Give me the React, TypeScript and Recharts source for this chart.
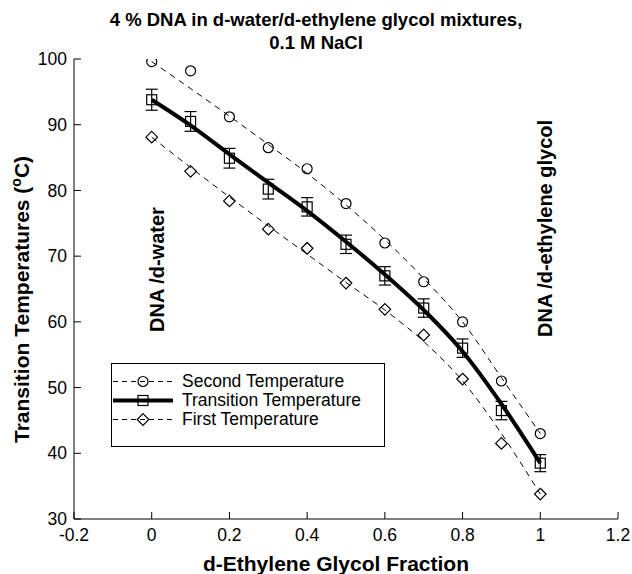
import { ComposedChart, Line, XAxis, YAxis, ErrorBar } from "recharts";

const fractions = [0, 0.1, 0.2, 0.3, 0.4, 0.5, 0.6, 0.7, 0.8, 0.9, 1.0];
const secondTemp = [99.6, 98.2, 91.2, 86.5, 83.3, 78.0, 72.0, 66.1, 60.0, 51.0, 43.0];
const transitionTemp = [93.8, 90.5, 84.9, 80.2, 77.5, 71.8, 67.0, 62.1, 56.0, 46.5, 38.5];
const firstTemp = [88.1, 82.9, 78.4, 74.1, 71.2, 65.9, 61.9, 58.0, 51.3, 41.5, 33.8];
const transitionErr = [1.6, 1.5, 1.5, 1.5, 1.4, 1.4, 1.4, 1.4, 1.4, 1.4, 1.3];
// fitted curves as drawn in the figure
const secondFit = [99.6, 95.5, 91.3, 87.0, 82.6, 77.8, 72.5, 66.6, 60.0, 51.5, 43.0];
const transitionFit = [93.8, 89.9, 85.5, 81.2, 76.9, 72.2, 67.2, 61.8, 55.5, 47.5, 38.5];
const firstFit = [88.1, 83.5, 79.0, 74.6, 70.3, 66.0, 61.8, 57.0, 51.0, 43.0, 33.8];

const xTicks = [-0.2, 0, 0.2, 0.4, 0.6, 0.8, 1, 1.2];
const yTicks = [30, 40, 50, 60, 70, 80, 90, 100];

const data = fractions.map((x, i) => ({
  x,
  second: secondTemp[i],
  trans: transitionTemp[i],
  first: firstTemp[i],
  err: transitionErr[i],
  secondFit: secondFit[i],
  transFit: transitionFit[i],
  firstFit: firstFit[i],
}));

const FONT = '"Liberation Sans", Arial, sans-serif';

const CircleDot = (props: any) => {
  const { cx, cy } = props;
  if (cx == null || cy == null) return null;
  return <circle cx={cx} cy={cy} r={5} fill="none" stroke="#000" strokeWidth={1.2} />;
};

const SquareDot = (props: any) => {
  const { cx, cy } = props;
  if (cx == null || cy == null) return null;
  return <rect x={cx - 5} y={cy - 5} width={10} height={10} fill="none" stroke="#000" strokeWidth={1.2} />;
};

const DiamondDot = (props: any) => {
  const { cx, cy } = props;
  if (cx == null || cy == null) return null;
  const s = 5.8;
  return (
    <path
      d={`M${cx},${cy - s}L${cx + s},${cy}L${cx},${cy + s}L${cx - s},${cy}Z`}
      fill="none"
      stroke="#000"
      strokeWidth={1.2}
    />
  );
};

function LegendBox() {
  const rows = [
    { label: "Second Temperature", marker: "circle", thick: false },
    { label: "Transition Temperature", marker: "square", thick: true },
    { label: "First Temperature", marker: "diamond", thick: false },
  ];
  return (
    <div
      style={{
        position: "absolute",
        left: 111,
        top: 363,
        width: 272,
        height: 82,
        border: "1px solid #000",
        background: "#fff",
        fontFamily: FONT,
        fontSize: 17.5,
      }}
    >
      {rows.map((r, i) => (
        <div
          key={r.label}
          style={{ position: "absolute", left: 0, top: 8 + i * 19, height: 19, display: "flex", alignItems: "center" }}
        >
          <svg width={70} height={19} style={{ display: "block" }}>
            <line
              x1={1}
              x2={61}
              y1={9.5}
              y2={9.5}
              stroke="#000"
              strokeWidth={r.thick ? 4 : 1}
              strokeDasharray={r.thick ? undefined : "5 4"}
            />
            {r.marker === "circle" && <CircleDot cx={31} cy={9.5} />}
            {r.marker === "square" && <SquareDot cx={31} cy={9.5} />}
            {r.marker === "diamond" && <DiamondDot cx={31} cy={9.5} />}
          </svg>
          <span style={{ lineHeight: "19px", whiteSpace: "nowrap" }}>{r.label}</span>
        </div>
      ))}
    </div>
  );
}

export default function App() {
  return (
    <div style={{ position: "absolute", left: 0, top: 0, width: 632, height: 574, background: "#fff" }}>
      <ComposedChart
        width={632}
        height={574}
        data={data}
        margin={{ top: 59, right: 14, bottom: 0, left: 14 }}
      >
        <XAxis
          dataKey="x"
          type="number"
          domain={[-0.2, 1.2]}
          ticks={xTicks}
          height={55}
          tickSize={-7}
          tickMargin={17}
          stroke="#000"
          tick={{ fill: "#000", fontSize: 17.5, fontFamily: FONT }}
          allowDataOverflow
        />
        <XAxis
          xAxisId="t"
          orientation="top"
          type="number"
          domain={[-0.2, 1.2]}
          ticks={xTicks}
          height={0}
          tickSize={-7}
          tickFormatter={() => ""}
          stroke="#000"
          allowDataOverflow
        />
        <YAxis
          type="number"
          domain={[30, 100]}
          ticks={yTicks}
          width={60}
          tickSize={-7}
          tickMargin={14}
          stroke="#000"
          tick={{ fill: "#000", fontSize: 17.5, fontFamily: FONT }}
          allowDataOverflow
        />
        <YAxis
          yAxisId="r"
          orientation="right"
          type="number"
          domain={[30, 100]}
          ticks={yTicks}
          width={0}
          tickSize={-7}
          tickFormatter={() => ""}
          stroke="#000"
          allowDataOverflow
        />
        <Line
          dataKey="secondFit"
          type="monotone"
          stroke="#000"
          strokeWidth={1}
          strokeDasharray="6 5"
          dot={false}
          activeDot={false}
          isAnimationActive={false}
        />
        <Line
          dataKey="firstFit"
          type="monotone"
          stroke="#000"
          strokeWidth={1}
          strokeDasharray="6 5"
          dot={false}
          activeDot={false}
          isAnimationActive={false}
        />
        <Line
          dataKey="transFit"
          type="monotone"
          stroke="#000"
          strokeWidth={4}
          dot={false}
          activeDot={false}
          isAnimationActive={false}
        />
        <Line
          dataKey="second"
          stroke="none"
          dot={<CircleDot />}
          activeDot={false}
          isAnimationActive={false}
        />
        <Line
          dataKey="first"
          stroke="none"
          dot={<DiamondDot />}
          activeDot={false}
          isAnimationActive={false}
        />
        <Line
          dataKey="trans"
          stroke="none"
          dot={<SquareDot />}
          activeDot={false}
          isAnimationActive={false}
        >
          <ErrorBar dataKey="err" width={6} stroke="#000" strokeWidth={1.2} direction="y" />
        </Line>
      </ComposedChart>

      <svg
        width={632}
        height={574}
        style={{ position: "absolute", left: 0, top: 0, pointerEvents: "none" }}
        fontFamily={FONT}
      >
        <text x={316} y={26} textAnchor="middle" fontSize={18.5} fontWeight="bold">
          4 % DNA in d-water/d-ethylene glycol mixtures,
        </text>
        <text x={316} y={49} textAnchor="middle" fontSize={18.5} fontWeight="bold">
          0.1 M NaCl
        </text>
        <text x={336} y={571} textAnchor="middle" fontSize={21} fontWeight="bold">
          d-Ethylene Glycol Fraction
        </text>
        <text
          transform="translate(29, 443) rotate(-90)"
          textAnchor="start"
          fontSize={21}
          fontWeight="bold"
        >
          Transition Temperatures (
          <tspan fontSize={14} dy={-8}>o</tspan>
          <tspan dy={8}>C)</tspan>
        </text>
        <text
          transform="translate(164, 332) rotate(-90)"
          textAnchor="start"
          fontSize={20}
          fontWeight="bold"
        >
          DNA /d-water
        </text>
        <text
          transform="translate(552, 337) rotate(-90)"
          textAnchor="start"
          fontSize={20}
          fontWeight="bold"
        >
          DNA /d-ethylene glycol
        </text>
      </svg>

      <LegendBox />
    </div>
  );
}
